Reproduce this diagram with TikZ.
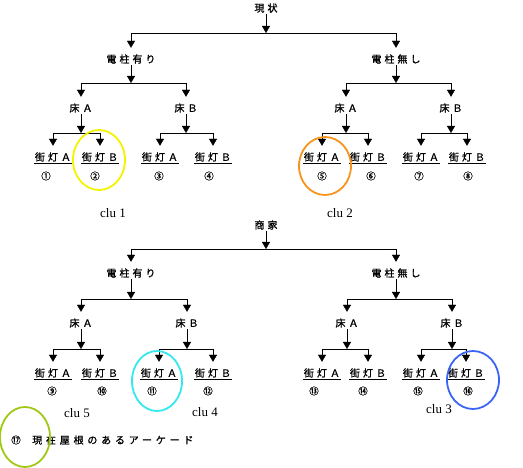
\documentclass[tikz,border=0pt]{standalone}
\definecolor{ringyellow}{HTML}{F5F200}
\definecolor{ringorange}{HTML}{F7941D}
\definecolor{ringcyan}{HTML}{33E8EE}
\definecolor{ringblue}{HTML}{3B66F5}
\definecolor{ringgreen}{HTML}{A0C814}
\usepackage{fontspec}
\setmainfont{Liberation Serif}
\newfontfamily\jpfont[LetterSpace=30, FakeBold=1.2]{Noto Sans CJK JP}
\newfontfamily\jpwide[LetterSpace=38, FakeBold=1.2]{Noto Sans CJK JP}
\newfontfamily\numfont[FakeBold=1.2]{Noto Sans CJK JP}
\usepackage{tikz}
\usetikzlibrary{arrows.meta}

% parent, y of the bar, left child, right child
\newcommand{\treebranch}[4]{%
  \coordinate (#1-j) at (#1 |- 0,#2);
  \draw[->] (#1) -- (#1-j);
  \draw (#3 |- #1-j) -- (#4 |- #1-j);
  \draw[into] (#3 |- #1-j) -- (#3);
  \draw[into] (#4 |- #1-j) -- (#4);}

\begin{document}
\begin{tikzpicture}[x=1pt, y=-1pt, >={Triangle[width=8pt,length=7pt]},
  lbl/.style={inner xsep=1pt, inner ysep=0pt, minimum height=12pt,
    font=\jpfont\fontsize{10}{12}\selectfont},
  num/.style={inner sep=0pt, font=\numfont\fontsize{9.5}{11}\selectfont},
  clu/.style={inner sep=0pt, font=\fontsize{13}{15}\selectfont},
  into/.style={->, shorten >=5pt},
  ring/.style={line width=1.8pt}]
  \useasboundingbox (0,0) rectangle (523,468);

  % 現状
  \node[lbl] (genjo) at (266,8) {現状};
  \node[lbl] (aru1) at (131,59) {電柱有り};
  \node[lbl] (nai1) at (396,59) {電柱無し};
  \node[lbl] (yuka1a) at (81,108) {床Ａ};
  \node[lbl] (yuka1b) at (186,108) {床Ｂ};
  \node[lbl] (yuka1c) at (346,108) {床Ａ};
  \node[lbl] (yuka1d) at (451,108) {床Ｂ};
  \node[lbl] (l1) at (53,157) {街灯Ａ};
  \node[lbl] (l2) at (100,157) {街灯Ｂ};
  \node[lbl] (l3) at (160,157) {街灯Ａ};
  \node[lbl] (l4) at (213,157) {街灯Ｂ};
  \node[lbl] (l5) at (322,157) {街灯Ａ};
  \node[lbl] (l6) at (368,157) {街灯Ｂ};
  \node[lbl] (l7) at (421,157) {街灯Ａ};
  \node[lbl] (l8) at (467,157) {街灯Ｂ};
  \node[num] (n1) at (46,176) {①};
  \node[num] (n2) at (95,176) {②};
  \node[num] (n3) at (159,176) {③};
  \node[num] (n4) at (209,176) {④};
  \node[num] (n5) at (322,176) {⑤};
  \node[num] (n6) at (371,176) {⑥};
  \node[num] (n7) at (419,176) {⑦};
  \node[num] (n8) at (468,176) {⑧};
  \node[clu] (clu1) at (113,213) {clu 1};
  \node[clu] (clu2) at (340,213) {clu 2};

  \treebranch{genjo}{33}{aru1}{nai1}
  \treebranch{aru1}{83}{yuka1a}{yuka1b}
  \treebranch{nai1}{83}{yuka1c}{yuka1d}
  \treebranch{yuka1a}{133}{l1}{l2}
  \treebranch{yuka1b}{133}{l3}{l4}
  \treebranch{yuka1c}{133}{l5}{l6}
  \treebranch{yuka1d}{133}{l7}{l8}

  % 商家
  \node[lbl] (shoka) at (266,225) {商家};
  \node[lbl] (aru2) at (131,273) {電柱有り};
  \node[lbl] (nai2) at (396,273) {電柱無し};
  \node[lbl] (yuka2a) at (81,323) {床Ａ};
  \node[lbl] (yuka2b) at (187,323) {床Ｂ};
  \node[lbl] (yuka2c) at (347,323) {床Ａ};
  \node[lbl] (yuka2d) at (452,323) {床Ｂ};
  \node[lbl] (l9) at (53,373) {街灯Ａ};
  \node[lbl] (l10) at (100,373) {街灯Ｂ};
  \node[lbl] (l11) at (159,373) {街灯Ａ};
  \node[lbl] (l12) at (213,373) {街灯Ｂ};
  \node[lbl] (l13) at (322,373) {街灯Ａ};
  \node[lbl] (l14) at (368,373) {街灯Ｂ};
  \node[lbl] (l15) at (421,373) {街灯Ａ};
  \node[lbl] (l16) at (466,373) {街灯Ｂ};
  \node[num] (n9) at (52,391) {⑨};
  \node[num] (n10) at (102,391) {⑩};
  \node[num] (n11) at (152,391) {⑪};
  \node[num] (n12) at (208,391) {⑫};
  \node[num] (n13) at (314,391) {⑬};
  \node[num] (n14) at (363,391) {⑭};
  \node[num] (n15) at (418,391) {⑮};
  \node[num] (n16) at (468,391) {⑯};
  \node[clu] (clu5) at (77,413) {clu 5};
  \node[clu] (clu4) at (205,412) {clu 4};
  \node[clu] (clu3) at (439,409) {clu 3};

  \treebranch{shoka}{249}{aru2}{nai2}
  \treebranch{aru2}{299}{yuka2a}{yuka2b}
  \treebranch{nai2}{299}{yuka2c}{yuka2d}
  \treebranch{yuka2a}{349}{l9}{l10}
  \treebranch{yuka2b}{349}{l11}{l12}
  \treebranch{yuka2c}{349}{l13}{l14}
  \treebranch{yuka2d}{349}{l15}{l16}

  \foreach \i in {1,...,16}
    \draw (l\i.south west) -- (l\i.south east);

  % legend
  \node[num] (n17) at (16,440) {⑰};
  \node[lbl, anchor=west, font=\jpwide\fontsize{10}{12}\selectfont]
    (legend) at (31,440) {現在屋根のあるアーケード};

  % clusters
  \draw[ring, ringyellow] (99,160) ellipse [x radius=26, y radius=30];
  \draw[ring, ringorange] (325,166) ellipse [x radius=26, y radius=29];
  \draw[ring, ringcyan] (157,381) ellipse [x radius=25, y radius=30];
  \draw[ring, ringblue] (473,380) ellipse [x radius=26, y radius=29];
  \draw[ring, ringgreen] (25,437) ellipse [x radius=25, y radius=30];
\end{tikzpicture}
\end{document}
